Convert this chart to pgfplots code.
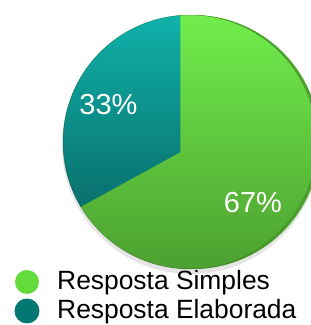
\documentclass[border=0pt]{standalone}
\usepackage{pgfplots}
\pgfplotsset{compat=1.18}
\usepackage{pgfplotstable}
\usepackage{fontspec}
\setmainfont{Liberation Sans}
\definecolor{gtop}{RGB}{114,238,76}
\definecolor{gbot}{RGB}{76,160,48}
\definecolor{ttop}{RGB}{16,178,170}
\definecolor{tbot}{RGB}{7,90,89}
\definecolor{rimgreen}{RGB}{78,165,46}
\definecolor{leggreen}{RGB}{99,219,59}
\definecolor{legteal}{RGB}{3,120,114}
\pgfplotstableread{
label value
Elaborada 33
Simples 67
}\piedata
\begin{document}
\begin{tikzpicture}
\useasboundingbox (0,0) rectangle (311pt,325pt);
\clip (0,0) rectangle (311pt,325pt);
\begin{axis}[at={(0,0)},anchor=south west,width=311pt,height=325pt,scale only axis,
  xmin=0,xmax=311,ymin=0,ymax=325,hide axis,clip=false]
\pgfplotstablegetelem{0}{value}\of\piedata
\pgfmathsetmacro{\aEnd}{90+3.6*\pgfplotsretval}
\pgfmathsetmacro{\aMid}{(90+\aEnd)/2}
\pgfmathsetmacro{\xA}{180.5+600*cos(\aMid)}
\pgfmathsetmacro{\yA}{173+600*sin(\aMid)}
\pgfmathsetmacro{\xB}{180.5+600*cos(\aEnd)}
\pgfmathsetmacro{\yB}{173+600*sin(\aEnd)}
\fill[black,opacity=0.10] (axis cs:191,180) circle[radius=129];
\fill[rimgreen] (axis cs:193,183) circle[radius=127];
\begin{scope}
\clip (axis cs:190,183) circle[radius=127];
\shade[top color=gtop,bottom color=gbot] (axis cs:55,55) rectangle (axis cs:325,312);
\end{scope}
\begin{scope}
\clip (axis cs:190,183) circle[radius=127];
\clip (axis cs:180.5,173) -- (axis cs:180.5,773) -- (axis cs:\xA,\yA) -- (axis cs:\xB,\yB) -- cycle;
\shade[top color=ttop,bottom color=tbot] (axis cs:55,55) rectangle (axis cs:325,312);
\end{scope}
\draw[black,opacity=0.25,line width=0.5pt] (axis cs:190,183) circle[radius=127];
\node[white,font=\fontsize{29}{29}\selectfont] at (axis cs:108.5,220.5) {33\%};
\node[white,font=\fontsize{29}{29}\selectfont] at (axis cs:253,122.5) {67\%};
\fill[leggreen] (axis cs:27,43) circle[radius=12];
\fill[legteal] (axis cs:27,14) circle[radius=12.5];
\node[anchor=base west,inner sep=0pt,font=\fontsize{26.4}{26.4}\selectfont] at (axis cs:57,35) {Resposta Simples};
\node[anchor=base west,inner sep=0pt,font=\fontsize{26.4}{26.4}\selectfont] at (axis cs:57,6) {Resposta Elaborada};
\end{axis}
\end{tikzpicture}
\end{document}
